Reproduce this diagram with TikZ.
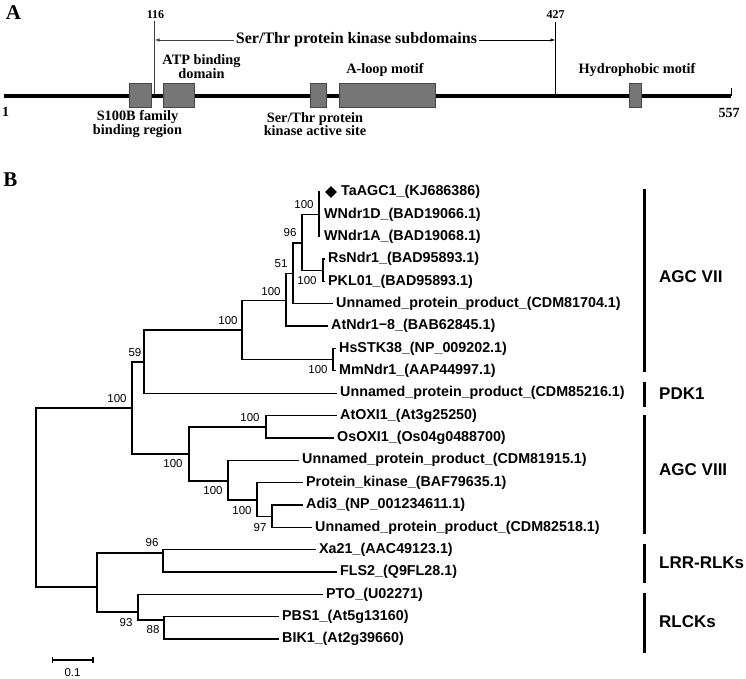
\documentclass[tikz,border=0pt]{standalone}
\usepackage{fontspec}
\setmainfont{Liberation Serif}
\setsansfont{Liberation Sans}
\usetikzlibrary{arrows.meta,shapes.geometric}
\definecolor{boxgray}{RGB}{118,118,118}
\definecolor{boxedge}{RGB}{70,70,70}
\begin{document}
\begin{tikzpicture}[x=1pt,y=-1pt,
  panellbl/.style={inner sep=0pt,font=\fontsize{21}{24}\selectfont\bfseries},
  alabel/.style={inner sep=0pt,align=center,font=\fontsize{14.3}{13.5}\selectfont\bfseries},
  hdr/.style={inner sep=2pt,font=\fontsize{16}{18}\selectfont\bfseries},
  numl/.style={inner sep=0pt,font=\fontsize{12}{14}\selectfont\bfseries},
  endl/.style={inner sep=0pt,font=\fontsize{14}{16}\selectfont\bfseries},
  dombox/.style={draw=boxedge,fill=boxgray,line width=0.8pt,minimum height=24pt,inner sep=0pt},
  mainline/.style={line width=4.5pt},
  thinline/.style={line width=0.9pt},
  arr/.style={line width=0.9pt,-{Latex[length=5pt,width=3.5pt]}},
  br/.style={line width=1.3pt},
  leaf/.style={anchor=west,inner sep=0pt,font=\fontsize{14.3}{16}\selectfont\sffamily\bfseries},
  bs/.style={inner sep=0pt,font=\fontsize{11.5}{13}\selectfont\sffamily},
  grp/.style={anchor=west,inner sep=0pt,font=\fontsize{17}{20}\selectfont\sffamily\bfseries},
  grpbar/.style={line width=2.6pt}]
\useasboundingbox (0,0) rectangle (746,679);

% ---------------- Panel A ----------------
\node[panellbl] (pA) at (13.5,13) {A};
\coordinate (m0) at (4,96);
\coordinate (m1) at (731,96);
\draw[mainline] (m0) -- (m1);
\coordinate (t1) at (731,88);
\draw[thinline] (m1) -- (t1);
\node[endl] (e1) at (5.5,112) {1};
\node[endl] (e557) at (729,113) {557};

\node[dombox,minimum width=22pt] (b1) at (140,95) {};
\node[dombox,minimum width=31pt] (b2) at (178.5,95) {};
\node[dombox,minimum width=16pt] (b3) at (318,95) {};
\node[dombox,minimum width=96pt] (b4) at (387.5,95) {};
\node[dombox,minimum width=12pt] (b5) at (635,95) {};

\coordinate (v116t) at (154.5,21);
\coordinate (v116b) at (154.5,94);
\coordinate (v427t) at (555.5,22);
\coordinate (v427b) at (555.5,94);
\draw[thinline,draw=black!75] (v116t) -- (v116b);
\draw[thinline] (v427t) -- (v427b);
\node[numl] (n116) at (155.5,15) {116};
\node[numl] (n427) at (555.5,15) {427};

\node[hdr] (sub) at (356.5,40) {Ser/Thr protein kinase subdomains};
\coordinate (a116) at (154.5,40);
\coordinate (a427) at (555.5,40);
\draw[arr,draw=black!75] (sub.west) -- (a116);
\draw[arr] (sub.east) -- (a427);

\node[alabel] (atp) at (201.5,66.5) {ATP binding\\domain};
\node[alabel] (s100) at (137.5,124) {S100B family\\binding region};
\node[alabel] (act) at (315,124) {Ser/Thr protein\\kinase active site};
\node[alabel] (aloop) at (385,70) {A-loop motif};
\node[alabel] (hyd) at (637,70) {Hydrophobic motif};

% ---------------- Panel B ----------------
\node[panellbl] (pB) at (10.5,180) {B};

% internal nodes
\coordinate (R) at (36,497);
\coordinate (N1) at (132,408);
\coordinate (N59) at (144,362);
\coordinate (NVII) at (242,330);
\coordinate (N286) at (286,300.5);
\coordinate (N51) at (293,273.5);
\coordinate (N96) at (302,243);
\coordinate (NTa) at (319,214.4);
\coordinate (NRs) at (323,270.5);
\coordinate (NHs) at (333,359.6);
\coordinate (NVIII) at (189,454);
\coordinate (NOXI) at (266,427);
\coordinate (N228) at (228,481);
\coordinate (N257) at (257,500);
\coordinate (N97) at (272,516.5);
\coordinate (NL) at (97,587);
\coordinate (N96b) at (163,553);
\coordinate (N93) at (138,612);
\coordinate (N88) at (164,620);

% leaf tips
\coordinate (lTa) at (320,192);
\coordinate (lWD) at (320,214.4);
\coordinate (lWA) at (320,236.7);
\coordinate (lRs) at (325,259.1);
\coordinate (lPK) at (325,281.4);
\coordinate (lU704) at (333,303.8);
\coordinate (lAt8) at (328,326.1);
\coordinate (lHs) at (336,348.5);
\coordinate (lMm) at (336,370.8);
\coordinate (lU216) at (337,393.2);
\coordinate (lAtO) at (337,415.5);
\coordinate (lOsO) at (334,437.9);
\coordinate (lU915) at (299,460.2);
\coordinate (lPrK) at (303,482.6);
\coordinate (lAdi) at (303,504.9);
\coordinate (lU518) at (312,527.3);
\coordinate (lXa) at (316,549.6);
\coordinate (lFLS) at (337,572.0);
\coordinate (lPTO) at (323,594.3);
\coordinate (lPBS) at (279,616.7);
\coordinate (lBIK) at (279,639);

% branches
\draw[br] (R) |- (N1);
\draw[br] (R) |- (NL);
\draw[br] (N1) |- (N59);
\draw[br] (N1) |- (NVIII);
\draw[br] (N59) |- (NVII);
\draw[br] (N59) |- (lU216);
\draw[br] (NVII) |- (N286);
\draw[br] (NVII) |- (NHs);
\draw[br] (N286) |- (N51);
\draw[br] (N286) |- (lAt8);
\draw[br] (N51) |- (N96);
\draw[br] (N51) |- (lU704);
\draw[br] (N96) |- (NTa);
\draw[br] (N96) |- (NRs);
\draw[br] (NTa) |- (lTa);
\draw[br] (NTa) |- (lWD);
\draw[br] (NTa) |- (lWA);
\draw[br] (NRs) |- (lRs);
\draw[br] (NRs) |- (lPK);
\draw[br] (NHs) |- (lHs);
\draw[br] (NHs) |- (lMm);
\draw[br] (NVIII) |- (NOXI);
\draw[br] (NVIII) |- (N228);
\draw[br] (NOXI) |- (lAtO);
\draw[br] (NOXI) |- (lOsO);
\draw[br] (N228) |- (lU915);
\draw[br] (N228) |- (N257);
\draw[br] (N257) |- (lPrK);
\draw[br] (N257) |- (N97);
\draw[br] (N97) |- (lAdi);
\draw[br] (N97) |- (lU518);
\draw[br] (NL) |- (N96b);
\draw[br] (NL) |- (N93);
\draw[br] (N96b) |- (lXa);
\draw[br] (N96b) |- (lFLS);
\draw[br] (N93) |- (lPTO);
\draw[br] (N93) |- (N88);
\draw[br] (N88) |- (lPBS);
\draw[br] (N88) |- (lBIK);

% leaf labels
\node[diamond,fill=black,inner sep=0pt,minimum size=12pt] (dia) at (331,192) {};
\node[leaf] (tTa) at (341,192) {TaAGC1\_(KJ686386)};
\node[leaf] (tWD) at ([xshift=4pt]lWD) {WNdr1D\_(BAD19066.1)};
\node[leaf] (tWA) at ([xshift=4pt]lWA) {WNdr1A\_(BAD19068.1)};
\node[leaf] (tRs) at ([xshift=3pt]lRs) {RsNdr1\_(BAD95893.1)};
\node[leaf] (tPK) at ([xshift=3pt]lPK) {PKL01\_(BAD95893.1)};
\node[leaf] (tU704) at ([xshift=3pt]lU704) {Unnamed\_protein\_product\_(CDM81704.1)};
\node[leaf] (tAt8) at ([xshift=3pt]lAt8) {AtNdr1−8\_(BAB62845.1)};
\node[leaf] (tHs) at ([xshift=3pt]lHs) {HsSTK38\_(NP\_009202.1)};
\node[leaf] (tMm) at ([xshift=3pt]lMm) {MmNdr1\_(AAP44997.1)};
\node[leaf] (tU216) at ([xshift=3pt]lU216) {Unnamed\_protein\_product\_(CDM85216.1)};
\node[leaf] (tAtO) at ([xshift=3pt]lAtO) {AtOXI1\_(At3g25250)};
\node[leaf] (tOsO) at ([xshift=3pt]lOsO) {OsOXI1\_(Os04g0488700)};
\node[leaf] (tU915) at ([xshift=3pt]lU915) {Unnamed\_protein\_product\_(CDM81915.1)};
\node[leaf] (tPrK) at ([xshift=3pt]lPrK) {Protein\_kinase\_(BAF79635.1)};
\node[leaf] (tAdi) at ([xshift=3pt]lAdi) {Adi3\_(NP\_001234611.1)};
\node[leaf] (tU518) at ([xshift=3pt]lU518) {Unnamed\_protein\_product\_(CDM82518.1)};
\node[leaf] (tXa) at ([xshift=3pt]lXa) {Xa21\_(AAC49123.1)};
\node[leaf] (tFLS) at ([xshift=3pt]lFLS) {FLS2\_(Q9FL28.1)};
\node[leaf] (tPTO) at ([xshift=3pt]lPTO) {PTO\_(U02271)};
\node[leaf] (tPBS) at ([xshift=3pt]lPBS) {PBS1\_(At5g13160)};
\node[leaf] (tBIK) at ([xshift=3pt]lBIK) {BIK1\_(At2g39660)};

% bootstrap values
\node[bs] (b01) at (117,399) {100};
\node[bs] (b02) at (135,353) {59};
\node[bs] (b03) at (228,321) {100};
\node[bs] (b04) at (271,292) {100};
\node[bs] (b05) at (281,264) {51};
\node[bs] (b06) at (290,233) {96};
\node[bs] (b07) at (304,205) {100};
\node[bs] (b08) at (307,281) {100};
\node[bs] (b09) at (318,370) {100};
\node[bs] (b10) at (173,464) {100};
\node[bs] (b11) at (250,418) {100};
\node[bs] (b12) at (213,491) {100};
\node[bs] (b13) at (242,511) {100};
\node[bs] (b14) at (260,528) {97};
\node[bs] (b15) at (152,543) {96};
\node[bs] (b16) at (126,623) {93};
\node[bs] (b17) at (153,630) {88};

% scale bar
\coordinate (sb0) at (52.5,660);
\coordinate (sb1) at (93,660);
\draw[br] (sb0) -- (sb1);
\draw[br] ([yshift=-3pt]sb0) -- ([yshift=3pt]sb0);
\draw[br] ([yshift=-3pt]sb1) -- ([yshift=3pt]sb1);
\node[bs] (sbl) at (72.5,673) {0.1};

% group bars
\coordinate (g1a) at (644.5,189);
\coordinate (g1b) at (644.5,372);
\coordinate (g2a) at (644.5,382);
\coordinate (g2b) at (644.5,407);
\coordinate (g3a) at (644.5,415);
\coordinate (g3b) at (644.5,534);
\coordinate (g4a) at (644.5,544);
\coordinate (g4b) at (644.5,583);
\coordinate (g5a) at (644.5,593);
\coordinate (g5b) at (644.5,653);
\draw[grpbar] (g1a) -- (g1b);
\draw[grpbar] (g2a) -- (g2b);
\draw[grpbar] (g3a) -- (g3b);
\draw[grpbar] (g4a) -- (g4b);
\draw[grpbar] (g5a) -- (g5b);
\node[grp] (gVII) at (659,277) {AGC VII};
\node[grp] (gPDK) at (659,393.5) {PDK1};
\node[grp] (gVIII) at (659,470) {AGC VIII};
\node[grp] (gLRR) at (659,563) {LRR-RLKs};
\node[grp] (gRLCK) at (659,622) {RLCKs};
\end{tikzpicture}
\end{document}
